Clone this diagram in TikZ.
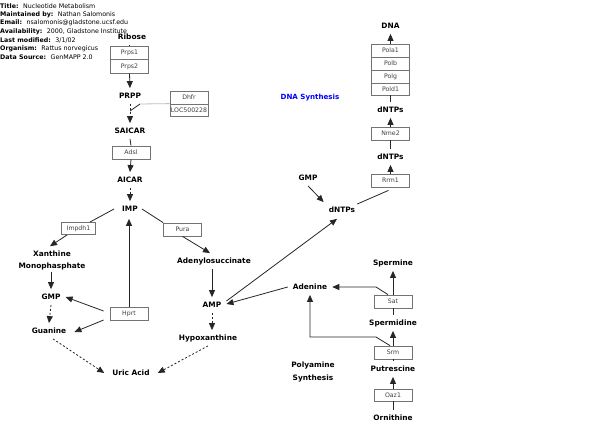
\documentclass[tikz,border=0pt]{standalone}
\usepackage{fontspec}
\setmainfont{DejaVu Sans}
\usetikzlibrary{arrows.meta,calc}
\begin{document}
\begin{tikzpicture}[x=1pt,y=-1pt,
  met/.style={font=\fontsize{7.4}{9}\selectfont\bfseries, inner xsep=5pt, inner ysep=5pt, text height=5.4pt, text depth=0pt},
  mettwo/.style={font=\fontsize{7.4}{12}\selectfont\bfseries, align=center, inner sep=2pt},
  gene/.style={draw=black!55, line width=0.8pt, fill=white, minimum width=38pt, minimum height=13pt, inner sep=0pt, font=\fontsize{6.2}{7}\selectfont, text=black!75},
  ln/.style={draw=black!85, line width=0.8pt},
  arr/.style={ln, -{Triangle[length=7pt,width=6pt]}},
  dsh/.style={dash pattern=on 2pt off 2pt},
  info/.style={anchor=west, inner sep=0pt, font=\fontsize{6.3}{7}\selectfont}
]
\useasboundingbox (0,0) rectangle (613,433);
\fill[white] (0,0) rectangle (613,433);

% info block
\node[info] (i1) at (0,6) {\textbf{Title:}\hspace{4.5pt}Nucleotide Metabolism};
\node[info] (i2) at (0,14.5) {\textbf{Maintained by:}\hspace{4.5pt}Nathan Salomonis};
\node[info] (i3) at (0,23) {\textbf{Email:}\hspace{4.5pt}nsalomonis@gladstone.ucsf.edu};
\node[info] (i4) at (0,31.5) {\textbf{Availability:}\hspace{4.5pt}2000, Gladstone Institute};
\node[info] (i5) at (0,40) {\textbf{Last modified:}\hspace{4.5pt}3/1/02};
\node[info] (i6) at (0,48.5) {\textbf{Organism:}\hspace{4.5pt}Rattus norvegicus};
\node[info] (i7) at (0,57) {\textbf{Data Source:}\hspace{4.5pt}GenMAPP 2.0};

% metabolites
\node[met] (ribose) at (132,37) {Ribose};
\node[met] (prpp) at (130,96) {PRPP};
\node[met] (saicar) at (130,131) {SAICAR};
\node[met] (aicar) at (130,180) {AICAR};
\node[met] (imp) at (130,209) {IMP};
\node[mettwo] (xmp) at (52,260) {Xanthine\\Monophasphate};
\node[met] (gmp) at (51,297) {GMP};
\node[met] (guanine) at (49,331) {Guanine};
\node[met] (uric) at (131,373) {Uric Acid};
\node[met] (adsucc) at (214,261) {Adenylosuccinate};
\node[met] (amp) at (212,305) {AMP};
\node[met] (hypox) at (208,338) {Hypoxanthine};
\node[met] (dntps) at (342,210) {dNTPs};
\node[met] (gmpb) at (308,178) {GMP};
\node[met] (dntpsb) at (390.5,157) {dNTPs};
\node[met] (dntpsc) at (390.5,110) {dNTPs};
\node[met] (dna) at (390.5,26) {DNA};
\node[met] (adenine) at (310,287) {Adenine};
\node[met] (spermine) at (393,263) {Spermine};
\node[met] (spermidine) at (393,323) {Spermidine};
\node[met] (putrescine) at (393,369) {Putrescine};
\node[met] (ornithine) at (393,418) {Ornithine};
\node[met, text=blue, font=\fontsize{7.1}{9}\selectfont\bfseries] (dsyn) at (310,97) {DNA Synthesis};
\node[mettwo, font=\fontsize{7.4}{13}\selectfont\bfseries] (poly) at (313,372) {Polyamine\\Synthesis};

% genes
\node[gene, minimum height=13.5pt] (prps1) at (129.5,53) {Prps1};
\node[gene, minimum height=13.5pt] (prps2) at (129.5,66.5) {Prps2};
\node[gene] (dhfr) at (189,97.5) {Dhfr};
\node[gene, minimum height=12pt] (loc) at (189,110) {LOC500228};
\node[gene] (adsl) at (131,152.5) {Adsl};
\node[gene, minimum width=34pt, minimum height=12pt] (impdh1) at (78.5,228.5) {Impdh1};
\node[gene] (pura) at (182.5,229.5) {Pura};
\node[gene] (hprt) at (129,313.5) {Hprt};
\node[gene] (pola1) at (390.5,50.5) {Pola1};
\node[gene] (polb) at (390.5,63.5) {Polb};
\node[gene] (polg) at (390.5,76.5) {Polg};
\node[gene, minimum height=12pt] (pold1) at (390.5,89) {Pold1};
\node[gene] (nme2) at (390.5,133.5) {Nme2};
\node[gene] (rrm1) at (390.5,180.5) {Rrm1};
\node[gene] (sat) at (393,301.5) {Sat};
\node[gene] (srm) at (393,352.5) {Srm};
\node[gene, minimum height=12pt] (oaz1) at (393,395) {Oaz1};

% purine synthesis
\draw[ln] (prps1.north) -- (prps1.north |- ribose.south);
\draw[arr] (prps2.south) -- (prpp.north);
\draw[arr, dsh] (prpp.south) -- (saicar.north);
\coordinate (dk) at (140,104);
\coordinate (dm) at (130,111);
\draw[draw=black!25, line width=0.8pt] (loc.north west) -- (dk);
\draw[ln] (dk) -- (dm);
\draw[ln] (saicar.south) -- (adsl.north);
\draw[arr] (adsl.south) -- (aicar.north);
\draw[arr, dsh] (aicar.south) -- (imp.north);

% IMP branches
\draw[ln] ($(imp.west)+(-3,0)$) -- ($(impdh1.north east)+(-6,0)$);
\draw[arr] ($(impdh1.south west)+(6,0)$) -- ($(xmp.north)+(-2,-2)$);
\draw[arr] (gmp.north |- xmp.south) -- (gmp.north);
\draw[arr, dsh] (gmp.south) -- (guanine.north);
\draw[arr, dsh] ($(guanine.south)+(4,0)$) -- ($(uric.west)+(-3,0)$);
\draw[arr] (hprt.north) -- ($(hprt.north |- imp.south)+(0,2)$);
\draw[arr] ($(hprt.west)+(-6,-2.5)$) -- (gmp.east);
\draw[arr] ($(hprt.west)+(-6,6.5)$) -- ($(guanine.east)+(3,1)$);
\draw[ln] ($(imp.east)+(-1,0)$) -- (pura.north west);
\draw[arr] (pura.south) -- ($(adsucc.north)+(-4,0)$);
\draw[arr] (adsucc.south -| amp.north) -- (amp.north);
\draw[arr, dsh] (amp.south) -- (amp.south |- hypox.north);
\draw[arr, dsh] (hypox.south) -- ($(uric.east)+(3,0)$);

% DNA synthesis
\draw[arr] ($(amp.east)+(0,-4)$) -- ($(dntps.south)+(-5,1)$);
\draw[arr] (adenine.west) -- ($(amp.east)+(0,-1)$);
\draw[arr] (gmpb.south) -- (dntps.north west);
\draw[ln] ($(dntps.east)+(-3,-6)$) -- ($(rrm1.south)+(-2,3)$);
\draw[arr] (rrm1.north) -- (dntpsb.south);
\draw[ln] (dntpsb.north) -- (nme2.south);
\draw[arr] (nme2.north) -- (dntpsc.south);
\draw[ln] (dntpsc.north) -- (pold1.south);
\draw[arr] (pola1.north) -- (dna.south);

% polyamine synthesis
\draw[arr] (sat.north) -- (spermine.south);
\draw[ln] (spermidine.north) -- (sat.south);
\draw[arr] (srm.north) -- (spermidine.south);
\draw[ln] (putrescine.north) -- (srm.south);
\draw[arr] (oaz1.north) -- (putrescine.south);
\draw[ln] (ornithine.north) -- (oaz1.south);
\coordinate (sk) at (376,287);
\coordinate (rk) at (376,337);
\draw[arr] ($(sat.north)+(-5,0)$) -- (sk) -- (adenine.east);
\draw[arr] ($(srm.north)+(-3,0)$) -- (rk) -- (adenine.south |- rk) -- (adenine.south);
\end{tikzpicture}
\end{document}
